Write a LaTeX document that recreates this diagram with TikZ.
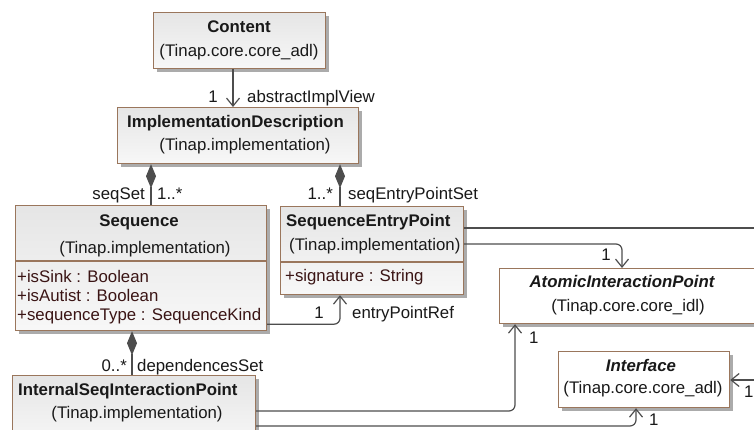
\documentclass[tikz,border=0pt]{standalone}
\usepackage{fontspec}
\setmainfont{Liberation Sans}
\usetikzlibrary{arrows.meta,shadows,calc}
\definecolor{bord}{HTML}{9A765C}
\definecolor{ln}{HTML}{4D4D4D}
\definecolor{attrc}{HTML}{3A1414}
\definecolor{shad}{HTML}{ABABAB}
\begin{document}
\begin{tikzpicture}[x=1pt,y=-1pt,
  box/.style={draw=bord, line width=1.2pt, anchor=north west, inner sep=0pt,
    top color=black!10, bottom color=black!3,
    drop shadow={shadow xshift=3.5pt, shadow yshift=-3.5pt, fill=shad, opacity=1}},
  abox/.style={box, top color=white, bottom color=white, fill=white},
  txt/.style={font=\fontsize{16.8}{20}\selectfont, inner sep=0pt, text=black!90},
  ttl/.style={txt, font=\fontsize{16.8}{20}\selectfont\bfseries},
  ittl/.style={txt, font=\fontsize{16.8}{20}\selectfont\bfseries\itshape},
  attr/.style={txt, text=attrc, anchor=base west},
  sep/.style={draw=bord, line width=1.2pt},
  assoc/.style={draw=ln, line width=1.2pt, rounded corners=6pt, -{Straight Barb[length=8pt,width=13pt]}},
  plain/.style={draw=ln, line width=1.2pt, rounded corners=6pt},
  comp/.style={draw=ln, line width=1.2pt, {Diamond[length=24pt,width=10pt,fill=ln]}-}
]
\clip (0,0) rectangle (754,430);
\fill[white] (0,0) rectangle (754,430);

% boxes
\node[box, minimum width=172pt, minimum height=56pt] (content) at (153,12) {};
\node[box, minimum width=241pt, minimum height=56pt] (impl) at (117,107) {};
\node[box, minimum width=251pt, minimum height=125pt] (seq) at (15,205) {};
\node[box, minimum width=183pt, minimum height=88pt] (sep) at (280,206) {};
\node[abox, minimum width=300pt, minimum height=55pt] (aip) at (499,268) {};
\node[abox, minimum width=171pt, minimum height=56pt] (iface) at (558,351) {};
\node[box, minimum width=243pt, minimum height=70pt] (isip) at (12,375) {};

% compartment separators
\draw[sep] ([yshift=-56pt]seq.north west) -- ([yshift=-56pt]seq.north east);
\draw[sep] ([yshift=-56pt]sep.north west) -- ([yshift=-56pt]sep.north east);

% texts
\node[ttl, anchor=base] (tcontent) at (239,33) {Content};
\node[txt, anchor=base] (scontent) at (239,57) {(Tinap.core.core\_adl)};
\node[ttl, anchor=base west] (timpl) at (127,128) {ImplementationDescription};
\node[txt, anchor=base] (simpl) at (245,151) {(Tinap.implementation)};
\node[ttl, anchor=base] (tseq) at (139,227) {Sequence};
\node[txt, anchor=base] (sseq) at (145,253) {(Tinap.implementation)};
\node[attr] (a1) at (17,282) {+isSink : Boolean};
\node[attr] (a2) at (17,301) {+isAutist : Boolean};
\node[attr] (a3) at (17,320) {+sequenceType : SequenceKind};
\node[ttl, anchor=base west] (tsep) at (286,227) {SequenceEntryPoint};
\node[txt, anchor=base west] (ssep) at (289,250) {(Tinap.implementation)};
\node[attr] (a4) at (285,281) {+signature : String};
\node[ittl, anchor=base] (taip) at (622,287) {AtomicInteractionPoint};
\node[txt, anchor=base] (saip) at (628,311) {(Tinap.core.core\_idl)};
\node[ittl, anchor=base] (tiface) at (641,371) {Interface};
\node[txt, anchor=base] (siface) at (643,393) {(Tinap.core.core\_adl)};
\node[ttl, anchor=base west] (tisip) at (18,395) {InternalSeqInteractionPoint};
\node[txt, anchor=base] (sisip) at (137,418) {(Tinap.implementation)};

% free ends at the right border
\coordinate (exitA) at (760,228);
\coordinate (exitB) at (760,380);

% connectors
\draw[assoc] ([xshift=80pt]content.south west) -- ([xshift=116pt]impl.north west);
\draw[comp] ([xshift=34pt]impl.south west) -- ([xshift=136pt]seq.north west);
\draw[comp] ([xshift=223pt]impl.south west) -- ([xshift=60pt]sep.north west);
\draw[assoc] ([yshift=7pt]seq.south east) -| ([xshift=60pt]sep.south west);
\draw[comp] ([xshift=117pt]seq.south west) -- ([xshift=120pt]isip.north west);
\draw[plain] ([yshift=-22pt]sep.north east) -- (exitA);
\draw[assoc] ([yshift=-38pt]sep.north east) -| ([xshift=123pt]aip.north west);
\draw[assoc] ([yshift=-36pt]isip.north east) -| ([xshift=16pt]aip.south west);
\draw[assoc] ([yshift=-51pt]isip.north east) -| ([xshift=78pt]iface.south west);
\draw[assoc] (exitB) -- ([yshift=-29pt]iface.north east);

% labels
\node[txt, anchor=base east] (l1) at (218,103) {1};
\node[txt, anchor=base west] (l2) at (247,103) {abstractImplView};
\node[txt, anchor=base east] (l3) at (145,200) {seqSet};
\node[txt, anchor=base west] (l4) at (157,200) {1..*};
\node[txt, anchor=base east] (l5) at (333,200) {1..*};
\node[txt, anchor=base west] (l6) at (348,200) {seqEntryPointSet};
\node[txt, anchor=base east] (l7) at (324,318) {1};
\node[txt, anchor=base west] (l8) at (352,318) {entryPointRef};
\node[txt, anchor=base east] (l9) at (611,260) {1};
\node[txt, anchor=base west] (l10) at (529,343) {1};
\node[txt, anchor=base west] (l11) at (744,397) {1};
\node[txt, anchor=base west] (l12) at (649,425) {1};
\node[txt, anchor=base east] (l13) at (127,371) {0..*};
\node[txt, anchor=base west] (l14) at (137,371) {dependencesSet};
\end{tikzpicture}
\end{document}
